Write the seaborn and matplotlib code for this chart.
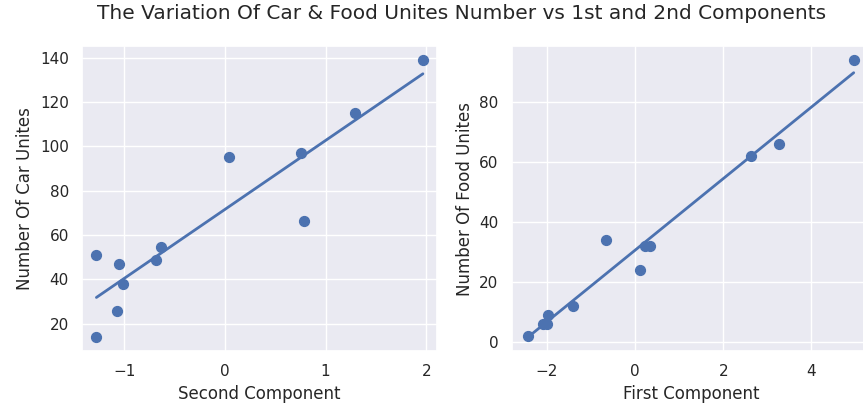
import matplotlib
matplotlib.use("Agg")
import matplotlib.pyplot as plt
import seaborn as sns
import numpy as np

sns.set_theme()

second_component = [-1.277, -1.277, -1.055, -1.008, -1.068, -0.68, -0.64, 0.043, 0.76, 0.79, 1.29, 1.967]
car_units = [14, 51, 47, 38, 26, 49, 54.5, 95, 97, 66.5, 115, 139]

first_component = [-2.427, -2.09, -2.0, -1.98, -1.40, -0.66, 0.11, 0.23, 0.34, 2.62, 3.26, 4.96]
food_units = [2, 6, 6, 9, 12, 34, 24, 32, 32, 62, 66, 94]

W, H = 863, 409
fig = plt.figure(figsize=(W / 100, H / 100), dpi=100)
bottom = (H - 351) / H
height = (351 - 46) / H
ax1 = fig.add_axes([82 / W, bottom, (437.3 - 82) / W, height])
ax2 = fig.add_axes([511.7 / W, bottom, (870 - 511.7) / W, height])

color = sns.color_palette()[0]
sns.regplot(x=second_component, y=car_units, ax=ax1, ci=None, color=color,
            scatter_kws={"s": 50, "alpha": 1}, line_kws={"lw": 2})
ax1.set_xlim(-1.42, 2.11)
ax1.set_xlabel("Second Component")
ax1.set_ylabel("Number Of Car Unites")

sns.regplot(x=first_component, y=food_units, ax=ax2, ci=None, color=color,
            scatter_kws={"s": 50, "alpha": 1}, line_kws={"lw": 2})
ax2.set_xlabel("First Component")
ax2.set_ylabel("Number Of Food Unites")

fig.suptitle("The Variation Of Car & Food Unites Number vs 1st and 2nd Components",
             fontsize=14.5, x=0.535, y=0.99)

fig.savefig("out.png", dpi=100)
